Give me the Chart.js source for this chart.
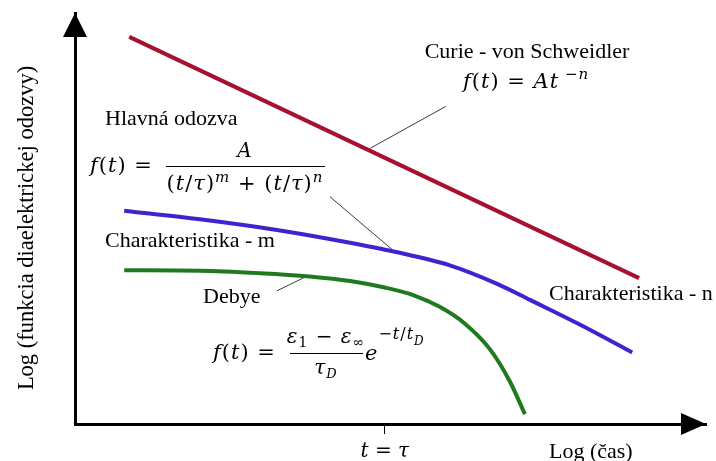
<!DOCTYPE html>
<html>
<head>
<meta charset="utf-8">
<script src="https://cdn.jsdelivr.net/npm/chart.js@4/dist/chart.umd.min.js"></script>
<style>
  html, body { margin: 0; padding: 0; background: #fff; }
  #wrap { width: 716px; height: 461px; }
</style>
</head>
<body>
<div id="wrap"><canvas id="chart" width="716" height="461"></canvas></div>
<script>
// Curves on log-log axes, both axes in arbitrary units 0..100
const curieX = [8.6, 89.4];
const curieY = [94.2, 35.5];

const mainX = [7.8, 19.8, 32.0, 42.5, 50.7, 59.4, 66.9, 72.1, 80.0, 88.3];
const mainY = [51.9, 49.8, 47.2, 44.4, 41.9, 38.6, 34.1, 30.2, 24.2, 17.4];

const debyeX = [7.8, 19.8, 29.3, 37.2, 43.6, 49.1, 53.9, 57.8, 61.8, 65.8, 68.9, 71.3];
const debyeY = [37.4, 37.3, 36.7, 35.9, 34.8, 33.2, 31.2, 28.5, 24.4, 18.1, 10.4, 2.4];

// thin pointer lines from the labels to the curves
const curiePtrX = [46.8, 58.8];
const curiePtrY = [67.1, 77.3];
const mainPtrX = [40.4, 50.6];
const mainPtrY = [55.3, 42.0];
const debyePtrX = [32.0, 36.8];
const debyePtrY = [32.4, 36.0];

// single tick on the time axis
const tickValues = [49.1];
const tickLabels = ["t = τ"];

const SERIF = "'Liberation Serif', 'Times New Roman', serif";
const MATH = "'DejaVu Serif', serif";

const toPoints = (xs, ys) => xs.map((x, i) => ({ x, y: ys[i] }));

function curve(label, xs, ys, color) {
  return {
    label,
    data: toPoints(xs, ys),
    borderColor: color,
    borderWidth: 4,
    pointRadius: 0,
    cubicInterpolationMode: "monotone",
    fill: false,
  };
}

function pointer(xs, ys) {
  return {
    data: toPoints(xs, ys),
    borderColor: "#3a3a3a",
    borderWidth: 1,
    pointRadius: 0,
    tension: 0,
    fill: false,
  };
}

// text made of pieces: [text, size, italic, dy]
function drawRuns(ctx, x, y, parts, align = "left") {
  const fontOf = p => `${p[2] ? "italic " : ""}${p[1]}px ${MATH}`;
  ctx.letterSpacing = "1px";
  let total = 0;
  parts.forEach(p => {
    ctx.font = fontOf(p);
    total += ctx.measureText(p[0]).width;
  });
  let cx = align === "center" ? x - total / 2 : x;
  ctx.textAlign = "left";
  ctx.textBaseline = "alphabetic";
  parts.forEach(p => {
    ctx.font = fontOf(p);
    ctx.fillText(p[0], cx, y + (p[3] || 0));
    cx += ctx.measureText(p[0]).width;
  });
  ctx.letterSpacing = "0px";
}

function fractionBar(ctx, x1, x2, y) {
  ctx.beginPath();
  ctx.lineWidth = 1;
  ctx.moveTo(x1, y);
  ctx.lineTo(x2, y);
  ctx.stroke();
}

const annotations = {
  id: "annotations",
  afterDraw(chart) {
    const { ctx, chartArea } = chart;
    const xs = chart.scales.x;
    const ys = chart.scales.y;
    const x0 = xs.getPixelForValue(0);
    const y0 = ys.getPixelForValue(0);

    ctx.save();
    ctx.fillStyle = "#000";
    ctx.strokeStyle = "#000";

    // arrow heads
    ctx.beginPath();
    ctx.moveTo(x0, chartArea.top);
    ctx.lineTo(x0 - 12, chartArea.top + 24);
    ctx.lineTo(x0 + 12, chartArea.top + 24);
    ctx.closePath();
    ctx.fill();

    ctx.beginPath();
    ctx.moveTo(chartArea.right, y0);
    ctx.lineTo(chartArea.right - 25, y0 - 11);
    ctx.lineTo(chartArea.right - 25, y0 + 11);
    ctx.closePath();
    ctx.fill();

    // plain labels
    ctx.font = `22px ${SERIF}`;
    ctx.textBaseline = "alphabetic";
    ctx.textAlign = "left";
    ctx.fillText("Hlavná odozva", 105, 125);
    ctx.fillText("Charakteristika - m", 105, 247);
    ctx.fillText("Debye", 203, 303);
    ctx.fillText("Charakteristika - n", 549, 300);
    ctx.fillText("Log (čas)", 549, 458);
    ctx.textAlign = "center";
    ctx.fillText("Curie - von Schweidler", 527, 58);

    ctx.save();
    ctx.translate(33, 228);
    ctx.rotate(-Math.PI / 2);
    ctx.font = `22.5px ${SERIF}`;
    ctx.fillText("Log (funkcia diaelektrickej odozvy)", 0, 0);
    ctx.restore();

    // f(t) = A t^-n
    drawRuns(ctx, 463, 88, [
      ["f", 21, true], ["(", 21], ["t", 21, true], [") = ", 21],
      ["A", 21, true], ["t", 21, true], [" −", 15, false, -9], ["n", 15, true, -9],
    ]);

    // main response
    drawRuns(ctx, 90, 172, [["f", 21, true], ["(", 21], ["t", 21, true], [") =", 21]]);
    drawRuns(ctx, 245, 157, [["A", 20, true]], "center");
    fractionBar(ctx, 166, 325, 166.5);
    drawRuns(ctx, 245, 190, [
      ["(", 21], ["t", 21, true], ["/", 21], ["τ", 21, true], [")", 21], ["m", 15, true, -8],
      [" + (", 21], ["t", 21, true], ["/", 21], ["τ", 21, true], [")", 21], ["n", 15, true, -8],
    ], "center");

    // Debye response
    drawRuns(ctx, 213, 359, [["f", 21, true], ["(", 21], ["t", 21, true], [") =", 21]]);
    drawRuns(ctx, 326, 343, [
      ["ε", 20, true], ["1", 14, false, 4], [" − ", 20], ["ε", 20, true], ["∞", 14, false, 4],
    ], "center");
    fractionBar(ctx, 290, 363, 353.5);
    drawRuns(ctx, 326, 374, [["τ", 20, true], ["D", 13, true, 4]], "center");
    drawRuns(ctx, 365, 360, [
      ["e", 21, true], ["−", 16, false, -21], ["t", 16, true, -21], ["/", 16, false, -21],
      ["t", 16, true, -21], ["D", 12, true, -15],
    ]);

    ctx.restore();
  },
};

new Chart(document.getElementById("chart"), {
  type: "line",
  data: {
    datasets: [
      curve("Curie - von Schweidler", curieX, curieY, "#a8102f"),
      curve("Hlavná odozva", mainX, mainY, "#3c24cf"),
      curve("Debye", debyeX, debyeY, "#1f7a1f"),
      pointer(curiePtrX, curiePtrY),
      pointer(mainPtrX, mainPtrY),
      pointer(debyePtrX, debyePtrY),
    ],
  },
  options: {
    responsive: false,
    animation: false,
    layout: { padding: { left: 75, top: 13, right: 10, bottom: -9 } },
    plugins: {
      legend: { display: false },
      tooltip: { enabled: false },
    },
    scales: {
      x: {
        type: "linear",
        min: 0,
        max: 100,
        afterBuildTicks: scale => {
          scale.ticks = tickValues.map(value => ({ value }));
        },
        ticks: {
          autoSkip: false,
          maxRotation: 0,
          padding: 9,
          color: "#000",
          font: { family: MATH, style: "italic", size: 20, lineHeight: 0.9 },
          callback: (value, index) => tickLabels[index],
        },
        grid: {
          drawOnChartArea: false,
          drawTicks: true,
          tickLength: 10,
          color: "#000",
          lineWidth: 1,
        },
        border: { display: true, color: "#000", width: 3 },
      },
      y: {
        type: "linear",
        min: 0,
        max: 100,
        ticks: { display: false },
        grid: { display: false, drawTicks: false },
        border: { display: true, color: "#000", width: 3 },
      },
    },
  },
  plugins: [annotations],
});
</script>
</body>
</html>
